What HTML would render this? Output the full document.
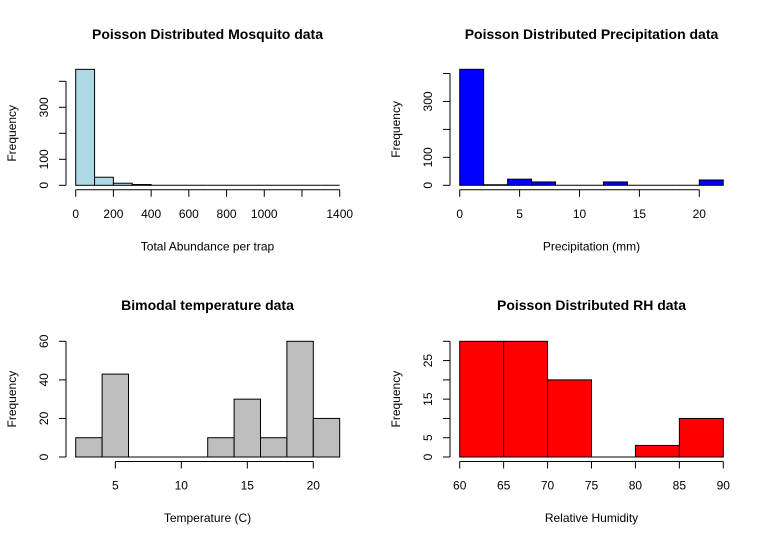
<!DOCTYPE html>
<html><head><meta charset="utf-8"><style>
html,body{margin:0;padding:0;background:#fff;}
svg{display:block;font-family:"Liberation Sans",Arial,sans-serif;}
</style></head><body>
<svg id="c" width="768" height="543" viewBox="0 0 768 543"></svg>
<script>
const mosqBins = [0,100,200,300,400,500,600,700,800,900,1000,1100,1200,1300,1400];
const mosqCounts = [446,31,8,3,1,0,0,0,0,0,0,0,0,0];
const mosqXTicks = [0,200,400,600,800,1000,1200,1400];
const mosqXLabels = ["0","200","400","600","800","1000","","1400"];
const mosqYTicks = [0,100,200,300,400];
const mosqYLabels = ["0","100","","300",""];

const precBins = [0,2,4,6,8,10,12,14,16,18,20,22];
const precCounts = [415,2,22,12,0,0,12,0,0,0,19];
const precXTicks = [0,5,10,15,20];
const precXLabels = ["0","5","10","15","20"];
const precYTicks = [0,100,200,300,400];
const precYLabels = ["0","100","","300",""];

const tempBins = [2,4,6,8,10,12,14,16,18,20,22];
const tempCounts = [10,43,0,0,0,10,30,10,60,20];
const tempXTicks = [5,10,15,20];
const tempXLabels = ["5","10","15","20"];
const tempYTicks = [0,20,40,60];
const tempYLabels = ["0","20","40","60"];

const rhBins = [60,65,70,75,80,85,90];
const rhCounts = [30,30,20,0,3,10];
const rhXTicks = [60,65,70,75,80,85,90];
const rhXLabels = ["60","65","70","75","80","85","90"];
const rhYTicks = [0,5,10,15,20,25,30];
const rhYLabels = ["0","5","","15","","25",""];

const svg = document.getElementById('c');
const NS = 'http://www.w3.org/2000/svg';
function mk(tag, attrs, parent){const e=document.createElementNS(NS,tag);for(const k in attrs)e.setAttribute(k,attrs[k]);(parent||svg).appendChild(e);return e;}

function panel(o){
  const g = mk('g',{});
  
  
  const sx = v => o.px0 + (v - o.xmin)/(o.xmax - o.xmin)*(o.px1 - o.px0);
  const sy = v => o.py0 - (v - o.ymin)/(o.ymax - o.ymin)*(o.py0 - o.py1);
  for(let i=0;i<o.counts.length;i++){
    const x0=sx(o.bins[i]), x1=sx(o.bins[i+1]), y=sy(o.counts[i]), b=sy(0);
    let r;
    if(b-y < 0.5){
      r = mk('line',{x1:x0,x2:x1,y1:b,y2:b,stroke:'#000','stroke-width':1},g);
    } else {
      r = mk('rect',{x:x0,y:y,width:x1-x0,height:b-y,fill:o.fill,stroke:'#000','stroke-width':1},g);
    }
    
    
  }
  const xa = mk('g',{},g);
  
  
  const ay = o.py0 + 4.5;
  mk('line',{x1:sx(o.xTicks[0]),x2:sx(o.xTicks[o.xTicks.length-1]),y1:ay,y2:ay,stroke:'#000'},xa);
  o.xTicks.forEach((t,i)=>{
    mk('line',{x1:sx(t),x2:sx(t),y1:ay,y2:ay+7,stroke:'#000'},xa);
    const tx = mk('text',{x:sx(t),y:ay+28,'text-anchor':'middle','font-size':12},xa);
    tx.textContent = o.xLabels[i];
  });
  const ya = mk('g',{},g);
  
  
  const ax = o.yAxisX;
  mk('line',{x1:ax,x2:ax,y1:sy(o.yTicks[0]),y2:sy(o.yTicks[o.yTicks.length-1]),stroke:'#000'},ya);
  o.yTicks.forEach((t,i)=>{
    mk('line',{x1:ax-7,x2:ax,y1:sy(t),y2:sy(t),stroke:'#000'},ya);
    const tx = mk('text',{x:0,y:0,'text-anchor':'middle','font-size':12,transform:`translate(${ax-18},${sy(t)}) rotate(-90)`},ya);
    tx.textContent = o.yLabels[i];
  });
  const t = mk('text',{x:(o.plotL+o.plotR)/2,y:o.titleY,'text-anchor':'middle','font-size':14,'font-weight':'bold'},g);
  
  
  t.textContent = o.title;
  const xl = mk('text',{x:(o.plotL+o.plotR)/2,y:o.py0+65,'text-anchor':'middle','font-size':12},g);
  
  
  xl.textContent = o.xTitle;
  const yl = mk('text',{x:0,y:0,'text-anchor':'middle','font-size':12,transform:`translate(${ax-50},${(o.py0+o.py1)/2}) rotate(-90)`},g);
  
  
  yl.textContent = 'Frequency';
}

panel({name:'mosquito-histogram',bins:mosqBins,counts:mosqCounts,xTicks:mosqXTicks,xLabels:mosqXLabels,yTicks:mosqYTicks,yLabels:mosqYLabels,
  xmin:0,xmax:1400,px0:75.7,px1:339.7,ymin:0,ymax:400,py0:185.3,py1:81.3,fill:'#add8e6',yAxisX:66,plotL:66,plotR:349,
  title:'Poisson Distributed Mosquito data',titleY:39,xTitle:'Total Abundance per trap'});
panel({name:'precipitation-histogram',bins:precBins,counts:precCounts,xTicks:precXTicks,xLabels:precXLabels,yTicks:precYTicks,yLabels:precYLabels,
  xmin:0,xmax:20,px0:459.7,px1:699.3,ymin:0,ymax:400,py0:185.3,py1:73.5,fill:'#0000ff',yAxisX:450,plotL:450,plotR:733,
  title:'Poisson Distributed Precipitation data',titleY:39,xTitle:'Precipitation (mm)'});
panel({name:'temperature-histogram',bins:tempBins,counts:tempCounts,xTicks:tempXTicks,xLabels:tempXLabels,yTicks:tempYTicks,yLabels:tempYLabels,
  xmin:5,xmax:20,px0:115.3,px1:313.3,ymin:0,ymax:60,py0:457,py1:341.3,fill:'#bebebe',yAxisX:66,plotL:66,plotR:349,
  title:'Bimodal temperature data',titleY:310,xTitle:'Temperature (C)'});
panel({name:'humidity-histogram',bins:rhBins,counts:rhCounts,xTicks:rhXTicks,xLabels:rhXLabels,yTicks:rhYTicks,yLabels:rhYLabels,
  xmin:60,xmax:90,px0:459.7,px1:723.3,ymin:0,ymax:30,py0:457,py1:341.3,fill:'#ff0000',yAxisX:450,plotL:450,plotR:733,
  title:'Poisson Distributed RH data',titleY:310,xTitle:'Relative Humidity'});
</script>
</body></html>
